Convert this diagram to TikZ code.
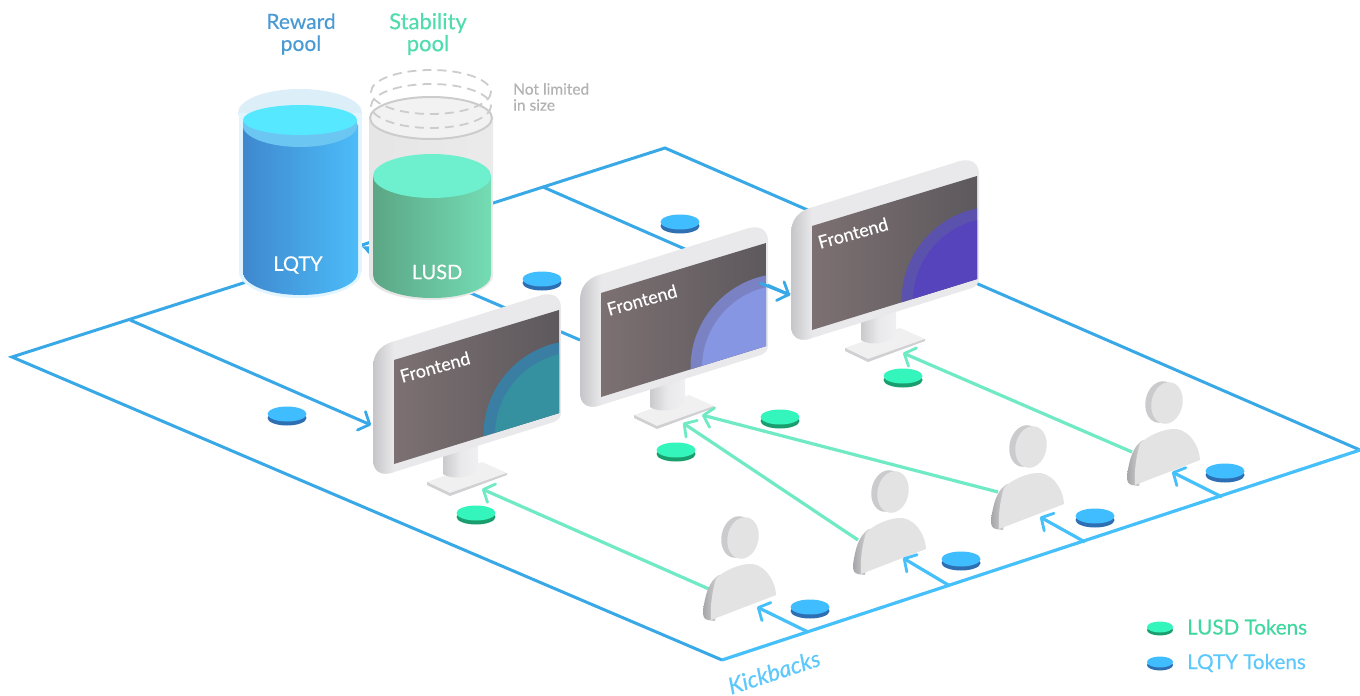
\documentclass[tikz,border=0pt]{standalone}
\usepackage{fontspec}
\setmainfont{Lato}[FakeBold=0.3]
\usetikzlibrary{arrows.meta,shapes.geometric,shadows}
\definecolor{wireA}{HTML}{38A8E6}
\definecolor{wireB}{HTML}{45C0FA}
\definecolor{wireG}{HTML}{6FEAC4}
\definecolor{tokB}{HTML}{40BDFF}
\definecolor{tokBd}{HTML}{2E6FB3}
\definecolor{tokG}{HTML}{34F6BC}
\definecolor{tokGd}{HTML}{1B9E6E}
\definecolor{bez}{HTML}{E9E9EB}
\definecolor{bezd}{HTML}{C4C4C8}
\definecolor{personc}{HTML}{E3E3E4}
\definecolor{persons}{HTML}{CBCBCE}
\definecolor{scrL}{HTML}{7C7072}
\definecolor{scrR}{HTML}{5D595D}
\definecolor{rwA}{HTML}{3F88CE}
\definecolor{rwB}{HTML}{429CE4}
\definecolor{rwC}{HTML}{4CBCF8}
\definecolor{rwBand}{HTML}{6CC6F2}
\definecolor{rwTop}{HTML}{56E8FF}
\definecolor{rwRim}{HTML}{DCEEF8}
\definecolor{stA}{HTML}{5BA685}
\definecolor{stB}{HTML}{57A180}
\definecolor{stC}{HTML}{74DCB4}
\definecolor{stTop}{HTML}{6EF0CF}
\definecolor{txtRw}{HTML}{4A9BD4}
\definecolor{txtSt}{HTML}{50DCAE}
\definecolor{txtLg}{HTML}{3FD9A0}
\definecolor{txtLb}{HTML}{5CC8FB}
\definecolor{mAo}{HTML}{3A7FA3}
\definecolor{mAi}{HTML}{35909F}
\definecolor{mBo}{HTML}{7B82C4}
\definecolor{mBi}{HTML}{8796E2}
\definecolor{mCo}{HTML}{5B52AE}
\definecolor{mCi}{HTML}{5544BC}
\tikzset{
  wirea/.style={draw=wireA,line width=3pt},
  wireb/.style={draw=wireB,line width=3.2pt},
  wireg/.style={draw=wireG,line width=3.2pt},
  barb/.style={-{Straight Barb[length=9pt,width=20pt,line width=2.8pt,round]}},
  tokblue/.style={ellipse,inner sep=0,minimum width=39pt,minimum height=15pt,fill=tokB,
     copy shadow={shadow xshift=0pt,shadow yshift=-4pt,fill=tokBd,draw=none}},
  tokgreen/.style={ellipse,inner sep=0,minimum width=39pt,minimum height=15pt,fill=tokG,
     copy shadow={shadow xshift=0pt,shadow yshift=-4pt,fill=tokGd,draw=none}},
  legblue/.style={ellipse,inner sep=0,minimum width=26pt,minimum height=11pt,fill=tokB,
     copy shadow={shadow xshift=0pt,shadow yshift=-3pt,fill=tokBd,draw=none}},
  leggreen/.style={ellipse,inner sep=0,minimum width=26pt,minimum height=11pt,fill=tokG,
     copy shadow={shadow xshift=0pt,shadow yshift=-3pt,fill=tokGd,draw=none}},
  headshape/.style={ellipse,inner sep=0,minimum width=31pt,minimum height=42pt,fill=personc,rotate=-12,
     copy shadow={shadow xshift=-6pt,shadow yshift=1pt,fill=persons,draw=none}},
  dashring/.style={draw=black!20,line width=1.8pt,dash pattern=on 9pt off 6pt},
  lab/.style={inner sep=0,align=center,font=\fontsize{21}{22}\selectfont},
  legtxt/.style={inner sep=0,anchor=west,font=\fontsize{20.6}{22}\selectfont},
}
\newcommand{\monitorat}[6]{%
  \begin{scope}[shift={(#2,#3)}]
    \fill[bez!70!white] (33,122) -- (88,102) -- (113,113) -- (56,133) -- cycle;
    \fill[bezd!80!white] (33,122) -- (56,133) -- (113,113) -- (113,115) -- (56,136) -- (33,125) -- cycle;
    \shade[left color=bezd!90!white,right color=bez!70!white,middle color=bez] (49,85) -- (84,85) -- (84,110) .. controls (75,118) and (58,120) .. (49,114) -- cycle;
    \begin{scope}
      \clip (-21,8) .. controls (-21,-6) and (-14,-14) .. (-2,-18) -- (148,-65) .. controls (160,-68) and (167,-62) .. (167,-52) -- (167,52) .. controls (167,58) and (164,60) .. (160,62) -- (-3,113) .. controls (-14,116) and (-21,110) .. (-21,100) -- cycle;
      \fill[bez] (-25,-75) rectangle (170,125);
      \shade[left color=bezd,right color=bez] (-22,-30) rectangle (0,125);
    \end{scope}
    \begin{scope}
      \clip (0,0) -- (165,-50) -- (165,53) -- (0,104) -- cycle;
      \shade[left color=scrL,right color=scrR] (0,-60) rectangle (165,110);
      \fill[#4] (184,75) circle (94.5);
      \fill[#5] (184,75) circle (83);
    \end{scope}
    \node[inner sep=0,rotate=15.5,text=white,font=\fontsize{18}{20}\selectfont] (#1) at (41,7) {#6};
  \end{scope}}
\newcommand{\personat}[3]{%
  \begin{scope}[shift={(#2,#3)}]
    \shade[left color=bezd!85!black,right color=persons!60!white] (0,-6) .. controls (2,-22) and (6,-36) .. (16,-42) -- (20,-38) -- (12,4) -- (5,3) .. controls (1,2) and (0,0) .. (0,-6) -- cycle;
    \fill[personc] (8,3) -- (73,-22) .. controls (72,-40) and (58,-55) .. (45,-53) .. controls (28,-51) and (16,-42) .. (13,-38) .. controls (9,-25) and (7,-10) .. (8,3) -- cycle;
    \node[headshape] (#1) at (40,-79) {};
  \end{scope}}
\begin{document}
\begin{tikzpicture}[x=1pt,y=-1pt]
\useasboundingbox (0,0) rectangle (1360,696);
\fill[white] (0,0) rectangle (1360,696);
% frame
\coordinate (fl) at (12,357);
\coordinate (ft) at (665,148);
\coordinate (fr) at (1360,450);
\coordinate (fb) at (722,660);
\coordinate (b1) at (130,320);
\coordinate (b2) at (543,187);
\coordinate (t1) at (371,425);
\coordinate (t3) at (790,295);
\coordinate (pb1) at (808,632);
\coordinate (pb2) at (950,586);
\coordinate (pb3) at (1085,542);
\coordinate (pb4) at (1222,497);
\coordinate (ta1) at (757,607);
\coordinate (ta2) at (903,558);
\coordinate (ta3) at (1040,517);
\coordinate (ta4) at (1172,472);
\coordinate (m2a) at (580,340);
\coordinate (rw) at (361,246);
\draw[wirea,line join=miter] (fb) -- (fl) -- (ft) -- (fr);
\draw[wireb,line join=miter] (fr) -- (fb);
\draw[wirea] (b2) -- (t3);
\draw[wirea,barb] (b1) -- (t1);
% reward pool
\fill[rwRim] (300,113) ellipse [x radius=62,y radius=24];
\fill[tokB!15!white] (239,113) rectangle (362,272);
\fill[tokB!15!white] (300,272) ellipse [x radius=61,y radius=26];
\shade[left color=rwA,middle color=rwB,right color=rwC] (243,125) -- (243,272) arc [start angle=180,end angle=360,x radius=57.5,y radius=-23] -- (358,125) -- cycle;
\begin{scope}
  \clip (243,118) rectangle (358,160);
  \fill[rwBand] (300,125) ellipse [x radius=57.5,y radius=22];
\end{scope}
\fill[rwTop] (300,120) ellipse [x radius=57,y radius=15];
\node[inner sep=0,text=white,font=\fontsize{20}{22}\selectfont] (lqty) at (298,265) {LQTY};
% arrow to reward pool
\draw[wirea,-{Latex[length=10pt,width=9pt]}] (m2a) -- (rw);
% stability pool
\shade[left color=black!10,middle color=black!3,right color=black!8] (369,118) -- (369,275) arc [start angle=180,end angle=360,x radius=62,y radius=-25] -- (493,118) -- cycle;
\fill[black!5] (431,118) ellipse [x radius=62,y radius=21];
\draw[draw=black!20,line width=2pt] (431,118) ellipse [x radius=61,y radius=21];
\draw[dashring] (431,92) ellipse [x radius=60,y radius=22];
\draw[dashring] (431,106) ellipse [x radius=60,y radius=22];
\shade[left color=stA,middle color=stB,right color=stC] (373,176) -- (373,275) arc [start angle=180,end angle=360,x radius=59,y radius=-23] -- (491,176) -- cycle;
\fill[stTop] (432,176) ellipse [x radius=59,y radius=22];
\node[inner sep=0,text=white,font=\fontsize{20}{22}\selectfont] (lusd) at (437,272) {LUSD};
\node[lab,text=txtRw] (rp) at (301,34) {Reward\\pool};
\node[lab,text=txtSt,font=\fontsize{22}{22}\selectfont] (sp) at (428,34) {Stability\\pool};
\node[inner sep=0,align=left,anchor=north west,text=black!30,font=\fontsize{15.5}{16}\selectfont] (nl) at (513,83) {Not limited\\in size};
% monitors
\monitorat{m1}{394}{360}{mAo}{mAi}{Frontend}
\monitorat{m2}{601}{293}{mBo}{mBi}{Frontend}
\coordinate (a3s) at (760,283);
\draw[wirea,barb] (a3s) -- (t3);
\monitorat{m3}{812}{226}{mCo}{mCi}{Frontend}
% tokens
\node[tokblue] (tk1) at (287,414) {};
\node[tokblue] (tk2) at (680,222) {};
\node[tokblue] (tk3) at (542,279) {};
\node[tokblue] (tk4) at (810,607) {};
\node[tokblue] (tk5) at (961,559) {};
\node[tokblue] (tk6) at (1095,516) {};
\node[tokblue] (tk7) at (1225,471) {};
\node[tokgreen] (tg1) at (476,513) {};
\node[tokgreen] (tg2) at (676,450) {};
\node[tokgreen] (tg3) at (780,417) {};
\node[tokgreen] (tg4) at (903,376) {};
% persons
\coordinate (g1s) at (709,589);
\coordinate (g2s) at (858,540);
\coordinate (g3s) at (998,492);
\coordinate (g4s) at (1132,452);
\coordinate (g1t) at (482,489);
\coordinate (g2t) at (683,423);
\coordinate (g3t) at (702,415);
\coordinate (g4t) at (903,353);
\draw[wireg,barb] (g1s) -- (g1t);
\draw[wireg,barb] (g2s) -- (g2t);
\draw[wireg,barb] (g3s) -- (g3t);
\draw[wireg,barb] (g4s) -- (g4t);
\personat{p1}{703}{617}
\personat{p2}{853}{571}
\personat{p3}{991}{526}
\personat{p4}{1127}{482}
\draw[wireb,barb] (pb1) -- (ta1);
\draw[wireb,barb] (pb2) -- (ta2);
\draw[wireb,barb] (pb3) -- (ta3);
\draw[wireb,barb] (pb4) -- (ta4);
% labels
\node[inner sep=0,rotate=18,text=txtLb,font=\itshape\fontsize{23}{25}\selectfont] (kick) at (774,672) {Kickbacks};
\node[leggreen] (lg) at (1160,627) {};
\node[legblue] (lb) at (1160,662) {};
\node[legtxt,text=txtLg] (lgt) at (1187,627) {LUSD Tokens};
\node[legtxt,text=txtLb] (lbt) at (1187,663) {LQTY Tokens};
\end{tikzpicture}
\end{document}
